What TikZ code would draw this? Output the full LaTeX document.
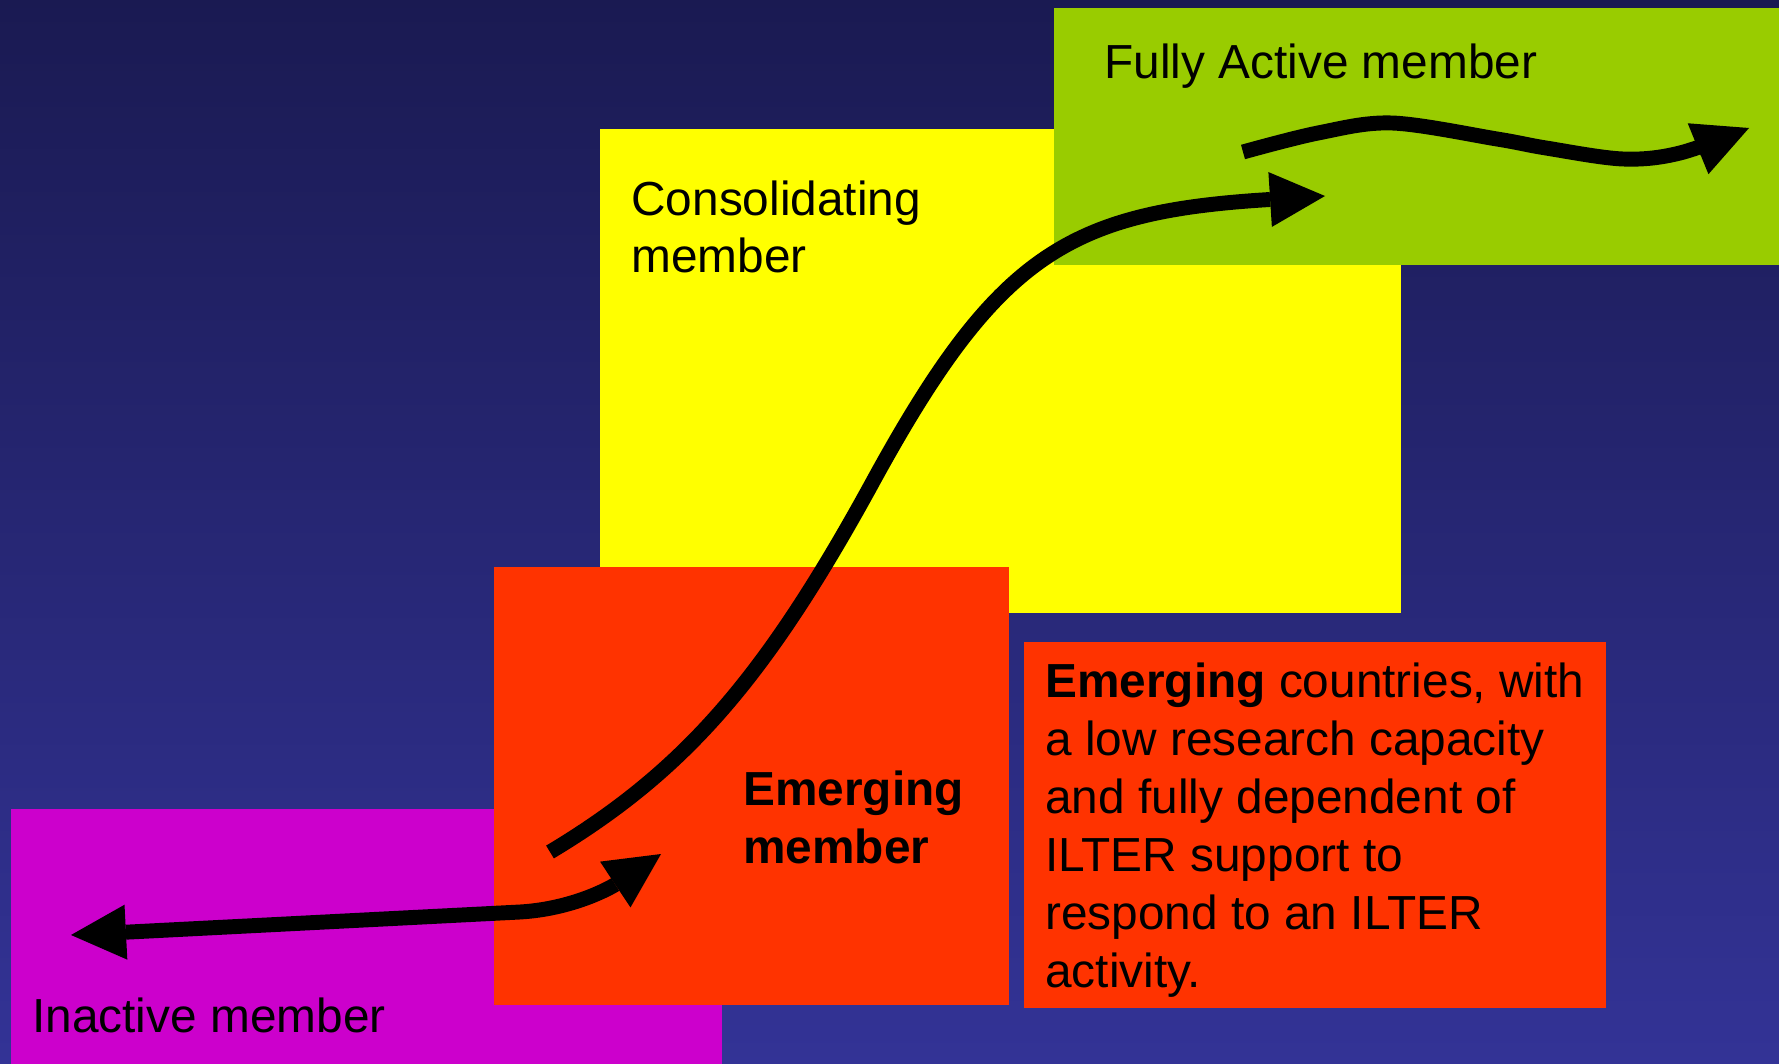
\documentclass[tikz,border=0pt]{standalone}
\usepackage{fontspec}
\setmainfont{Liberation Sans}
\usetikzlibrary{arrows.meta}

\definecolor{navytop}{RGB}{26,26,82}
\definecolor{navybottom}{RGB}{51,51,150}
\definecolor{inactivecol}{RGB}{204,0,204}
\definecolor{emergingcol}{RGB}{255,51,0}
\definecolor{consolcol}{RGB}{255,255,0}
\definecolor{activecol}{RGB}{153,204,0}

\begin{document}
\begin{tikzpicture}[x = 0.02cm, y = -0.02cm,
    lbl/.style = {anchor = base west, inner sep = 0pt, align = left, font = \fontsize{27.2}{33}\selectfont},
    move/.style = {line width = 8.5pt, -{Triangle[length = 1.1cm, width = 1.1cm, line width = 0pt]}}]
  % background and stage boxes
  \shade[top color = navytop, bottom color = navybottom] (0,0) rectangle (1779,1064);
  \fill[inactivecol] (11,809)   rectangle (722,1064);
  \fill[consolcol]   (600,129)  rectangle (1401,613);
  \fill[activecol]   (1054,8)   rectangle (1779,265);
  \fill[emergingcol] (494,567)  rectangle (1009,1005);
  \fill[emergingcol] (1024,642) rectangle (1606,1008);

  % base anchor sits on the last line
  \node[lbl] (inactive) at (32,1032)  {Inactive member};
  \node[lbl, font = \fontsize{27.2}{33}\selectfont\bfseries] (emerging) at (743,863) {Emerging\\member};
  \node[lbl] (consol)   at (631,273)  {Consolidating\\member};
  \node[lbl] (active)   at (1104,79)  {Fully Active member};
  \node[lbl] (desc)     at (1045,987) {\textbf{Emerging} countries, with\\a low research capacity\\and fully dependent of\\ILTER support to\\respond to an ILTER\\activity.};

  \coordinate (back)  at (71,935);
  \coordinate (fwd)   at (661,854);
  \coordinate (grow0) at (550,852);
  \coordinate (grow1) at (1325,196);
  \coordinate (keep0) at (1243,152);
  \coordinate (keep1) at (1749,128);

  \draw[move, {Triangle[length = 1.1cm, width = 1.1cm, line width = 0pt]}-{Triangle[length = 1.1cm, width = 1.1cm, line width = 0pt]}]
    (back) -- (520,912) .. controls (572,909) and (610,888) .. (fwd);
  \draw[move] (grow0) .. controls (685,771) and (765,678) .. (870,487)
                      .. controls (995,257) and (1066,213) .. (1262,200) -- (grow1);
  \draw[move] plot[smooth, tension = 0.55] coordinates {(keep0) (1318,133) (1392,123) (1497,139) (1546,148)
    (1623,159) (1680,153) (keep1)};
\end{tikzpicture}
\end{document}
